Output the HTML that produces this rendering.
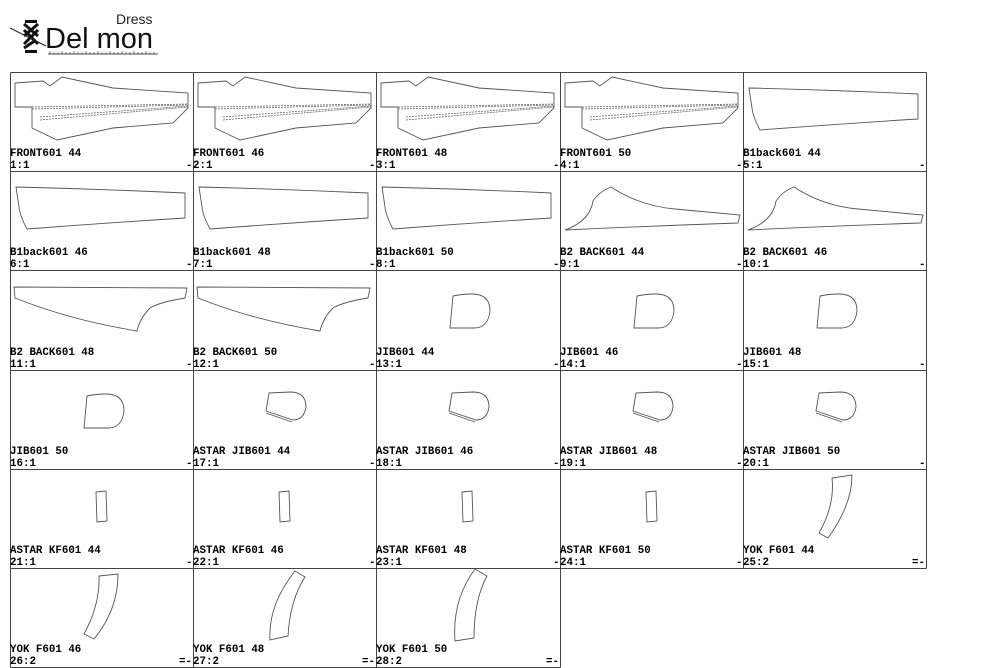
<!DOCTYPE html>
<html><head><meta charset="utf-8"><style>
html,body{margin:0;padding:0;background:#fff;}
svg{display:block}
.t{font-family:"Liberation Mono",monospace;font-weight:bold;font-size:10.8px;fill:#000}
.p{fill:none;stroke:#555;stroke-width:0.9}
.d{fill:none;stroke:#555;stroke-width:0.7;stroke-dasharray:2 1}
</style></head><body>
<svg width="1000" height="668" viewBox="0 0 1000 668" xmlns="http://www.w3.org/2000/svg">
<defs>
<g id="front">
<path class="p" d="M5,11 L33,9 L40,14 L52,5 L103,16 L178,21 L178,36 L163,51 L103,56 L47,68 L22,56 L22,35 L5,35 Z"/>
<path class="d" d="M22,35 L178,32 M22,37 L178,33 M30,45 L178,34 M30,48 L178,35"/>
</g>
<g id="b1"><path class="p" d="M6,16 Q90,18 175,22 L175,47 Q95,52 17,58 Q10,45 9,36 Z"/></g>
<g id="b2"><path class="p" d="M5,59 Q30,50 33,30 Q40,20 51,16 Q80,35 115,38 L180,44 L178,52 Q90,55 5,59 Z"/></g>
<g id="b2b"><path class="p" d="M4,17 L177,18 L175,28 Q150,32 140,38 Q130,48 127,61 Q60,50 5,28 Z"/></g>
<g id="jib"><path class="p" d="M77,26 Q86,24 96,24 Q114,24 114,41 Q112,58 98,58 L74,58 Z"/></g>
<g id="ajib"><path class="p" d="M76,23 L97,22 Q113,22 113,37 Q111,50 100,50 L73,41 Z M73,43 L99,52"/></g>
<g id="kf"><path class="p" d="M86,23 L96,22 L97,52 L87,53 Z"/></g>
</defs>
<!-- logo -->
<text x="116" y="24" style="font-family:'Liberation Sans',sans-serif;font-size:14px;fill:#222">Dress</text>
<text x="45" y="48" style="font-family:'Liberation Sans',sans-serif;font-size:29px;fill:#111">Del mon</text>
<path d="M48,54 H158" stroke="#444" stroke-width="1"/>
<path d="M50,51 V54 M54,52 V54 M58,52 V54 M62,51 V54 M66,52 V54 M70,52 V54 M74,51 V54 M78,52 V54 M82,52 V54 M86,51 V54 M90,52 V54 M94,52 V54 M98,51 V54 M102,52 V54 M106,52 V54 M110,51 V54 M114,52 V54 M118,52 V54 M122,51 V54 M126,52 V54 M130,52 V54 M134,51 V54 M138,52 V54 M142,52 V54 M146,51 V54 M150,52 V54 M154,52 V54" stroke="#444" stroke-width="0.7"/>
<g stroke="#111" stroke-width="3"><path d="M24,24 L38,36 M24,36 L38,24 M24,30 L38,44 M24,44 L38,30 M24,48 L36,40"/></g>
<path d="M10,28 L46,46" stroke="#222" stroke-width="1"/>
<rect x="25" y="20" width="12" height="3" fill="#111"/><rect x="25" y="50" width="12" height="3" fill="#111"/>

<!-- grid -->
<g stroke="#444" stroke-width="1" fill="none">
<path d="M10.5,72.5 H926.5 M10.5,171.5 H926.5 M10.5,270.5 H926.5 M10.5,370.5 H926.5 M10.5,469.5 H926.5 M10.5,568.5 H926.5 M10.5,667.5 H560.5"/>
<path d="M10.5,72.5 V667.5 M193.5,72.5 V667.5 M376.5,72.5 V667.5 M560.5,72.5 V667.5 M743.5,72.5 V568.5 M926.5,72.5 V568.5"/>
</g>

<use href="#front" x="10" y="72"/><use href="#front" x="193" y="72"/><use href="#front" x="376" y="72"/><use href="#front" x="560" y="72"/><use href="#b1" x="743" y="72"/>
<use href="#b1" x="10" y="171"/><use href="#b1" x="193" y="171"/><use href="#b1" x="376" y="171"/><use href="#b2" x="560" y="171"/><use href="#b2" x="743" y="171"/>
<use href="#b2b" x="10" y="270"/><use href="#b2b" x="193" y="270"/><use href="#jib" x="376" y="270"/><use href="#jib" x="560" y="270"/><use href="#jib" x="743" y="270"/>
<use href="#jib" x="10" y="370"/><use href="#ajib" x="193" y="370"/><use href="#ajib" x="376" y="370"/><use href="#ajib" x="560" y="370"/><use href="#ajib" x="743" y="370"/>
<use href="#kf" x="10" y="469"/><use href="#kf" x="193" y="469"/><use href="#kf" x="376" y="469"/><use href="#kf" x="560" y="469"/>
<path class="p" d="M832,478 L852,475 Q852,505 828,538 L819,533 Q835,505 832,478 Z"/>
<path class="p" d="M99,576 L118,574 Q118,610 94,639 L84,634 Q100,605 99,576 Z"/>
<path class="p" d="M295,571 L305,577 Q290,600 288,636 L270,640 Q268,605 295,571 Z"/>
<path class="p" d="M475,569 L487,576 Q474,600 474,638 L455,641 Q452,600 475,569 Z"/>

<g class="t">
<text x="10" y="156">FRONT601 44</text><text x="10" y="168">1:1</text><text x="186" y="168">-</text>
<text x="193" y="156">FRONT601 46</text><text x="193" y="168">2:1</text><text x="369" y="168">-</text>
<text x="376" y="156">FRONT601 48</text><text x="376" y="168">3:1</text><text x="553" y="168">-</text>
<text x="560" y="156">FRONT601 50</text><text x="560" y="168">4:1</text><text x="736" y="168">-</text>
<text x="743" y="156">B1back601 44</text><text x="743" y="168">5:1</text><text x="919" y="168">-</text>

<text x="10" y="255">B1back601 46</text><text x="10" y="267">6:1</text><text x="186" y="267">-</text>
<text x="193" y="255">B1back601 48</text><text x="193" y="267">7:1</text><text x="369" y="267">-</text>
<text x="376" y="255">B1back601 50</text><text x="376" y="267">8:1</text><text x="553" y="267">-</text>
<text x="560" y="255">B2 BACK601 44</text><text x="560" y="267">9:1</text><text x="736" y="267">-</text>
<text x="743" y="255">B2 BACK601 46</text><text x="743" y="267">10:1</text><text x="919" y="267">-</text>

<text x="10" y="355">B2 BACK601 48</text><text x="10" y="367">11:1</text><text x="186" y="367">-</text>
<text x="193" y="355">B2 BACK601 50</text><text x="193" y="367">12:1</text><text x="369" y="367">-</text>
<text x="376" y="355">JIB601 44</text><text x="376" y="367">13:1</text><text x="553" y="367">-</text>
<text x="560" y="355">JIB601 46</text><text x="560" y="367">14:1</text><text x="736" y="367">-</text>
<text x="743" y="355">JIB601 48</text><text x="743" y="367">15:1</text><text x="919" y="367">-</text>

<text x="10" y="454">JIB601 50</text><text x="10" y="466">16:1</text><text x="186" y="466">-</text>
<text x="193" y="454">ASTAR JIB601 44</text><text x="193" y="466">17:1</text><text x="369" y="466">-</text>
<text x="376" y="454">ASTAR JIB601 46</text><text x="376" y="466">18:1</text><text x="553" y="466">-</text>
<text x="560" y="454">ASTAR JIB601 48</text><text x="560" y="466">19:1</text><text x="736" y="466">-</text>
<text x="743" y="454">ASTAR JIB601 50</text><text x="743" y="466">20:1</text><text x="919" y="466">-</text>

<text x="10" y="553">ASTAR KF601 44</text><text x="10" y="565">21:1</text><text x="186" y="565">-</text>
<text x="193" y="553">ASTAR KF601 46</text><text x="193" y="565">22:1</text><text x="369" y="565">-</text>
<text x="376" y="553">ASTAR KF601 48</text><text x="376" y="565">23:1</text><text x="553" y="565">-</text>
<text x="560" y="553">ASTAR KF601 50</text><text x="560" y="565">24:1</text><text x="736" y="565">-</text>
<text x="743" y="553">YOK F601 44</text><text x="743" y="565">25:2</text><text x="912" y="565">=-</text>

<text x="10" y="652">YOK F601 46</text><text x="10" y="664">26:2</text><text x="179" y="664">=-</text>
<text x="193" y="652">YOK F601 48</text><text x="193" y="664">27:2</text><text x="362" y="664">=-</text>
<text x="376" y="652">YOK F601 50</text><text x="376" y="664">28:2</text><text x="546" y="664">=-</text>
</g>
</svg>
</body></html>
